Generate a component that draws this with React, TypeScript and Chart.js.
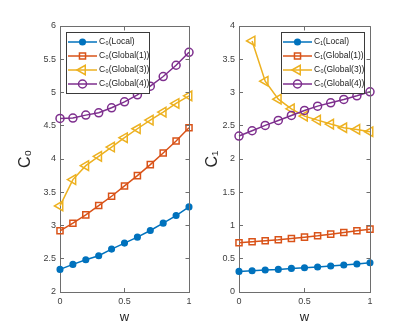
import React, { useEffect, useRef } from 'react';
import { Chart, registerables } from 'chart.js';

Chart.register(...registerables);

// ---- data ----
const wValues = [0, 0.1, 0.2, 0.3, 0.4, 0.5, 0.6, 0.7, 0.8, 0.9, 1];

const c0Local = [2.34, 2.415, 2.485, 2.545, 2.645, 2.735, 2.825, 2.925, 3.035, 3.15, 3.28];
const c0Global1 = [2.92, 3.035, 3.16, 3.3, 3.44, 3.595, 3.75, 3.915, 4.09, 4.27, 4.47];
const c0Global3 = [3.295, 3.69, 3.9, 4.04, 4.18, 4.32, 4.455, 4.585, 4.705, 4.835, 4.95];
const c0Global4 = [4.61, 4.615, 4.66, 4.695, 4.77, 4.86, 4.965, 5.095, 5.24, 5.41, 5.605];

const c1Local = [0.31, 0.32, 0.33, 0.34, 0.355, 0.365, 0.375, 0.39, 0.405, 0.42, 0.44];
const c1Global1 = [0.74, 0.755, 0.77, 0.785, 0.805, 0.825, 0.845, 0.87, 0.895, 0.92, 0.945];
const c1Global3 = [null, 3.775, 3.17, 2.9, 2.755, 2.645, 2.585, 2.525, 2.47, 2.445, 2.41];
const c1Global4 = [2.345, 2.425, 2.505, 2.58, 2.655, 2.73, 2.795, 2.845, 2.895, 2.95, 3.01];

const leftLabels = ['C₀(Local)', 'C₀(Global(1))', 'C₀(Global(3))', 'C₀(Global(4))'];
const rightLabels = ['C₁(Local)', 'C₁(Global(1))', 'C₀(Global(3))', 'C₀(Global(4))'];

const xTitle = 'w';
const leftYTitle = 'C₀';
const rightYTitle = 'C₁';

const leftYRange = [2, 6];
const rightYRange = [0, 4];

// ---- styles ----
const FONT = "'Liberation Sans', Arial, Helvetica, sans-serif";
const AXIS_COLOR = '#6e6e6e';
const TICK_COLOR = '#404040';

type SeriesStyle = { color: string; shape: 'circle' | 'rect' | 'triangle'; r: number; filled: boolean };
const seriesStyles: SeriesStyle[] = [
  { color: '#0072BD', shape: 'circle', r: 2.8, filled: true },
  { color: '#D95319', shape: 'rect', r: 4.3, filled: false },
  { color: '#EDB120', shape: 'triangle', r: 5.5, filled: false },
  { color: '#7E2F8E', shape: 'circle', r: 4, filled: false },
];

function drawMarker(ctx: CanvasRenderingContext2D, s: SeriesStyle, x: number, y: number) {
  ctx.beginPath();
  if (s.shape === 'circle') {
    ctx.arc(x, y, s.r, 0, Math.PI * 2);
  } else if (s.shape === 'rect') {
    const h = s.r * Math.SQRT1_2;
    ctx.rect(x - h, y - h, 2 * h, 2 * h);
  } else {
    ctx.moveTo(x - s.r, y);
    ctx.lineTo(x + s.r / 2, y - s.r * 0.866);
    ctx.lineTo(x + s.r / 2, y + s.r * 0.866);
    ctx.closePath();
  }
  if (s.filled) {
    ctx.fillStyle = s.color;
    ctx.fill();
  }
  ctx.strokeStyle = s.color;
  ctx.lineWidth = 1.5;
  ctx.stroke();
}

const align = (v: number) => Math.round(v - 0.5) + 0.5;
const fmtTick = (v: any) => String(+Number(v).toFixed(2));

function makeConfig(
  series: (number | null)[][],
  labels: string[],
  yRange: number[],
  yTitle: string,
  yAxisWidth: number,
  yTitlePad: number,
  padRight: number,
  legendBox: { x: number; y: number; w: number; h: number }
): any {
  const framePlugin = {
    id: 'frameAndLegend',
    afterDraw(chart: any) {
      const { ctx, chartArea } = chart;
      const { left, right, top, bottom } = chartArea;
      const xs = chart.scales.x;
      const ys = chart.scales.y;
      ctx.save();
      ctx.strokeStyle = AXIS_COLOR;
      ctx.lineWidth = 1;
      ctx.beginPath();
      ctx.moveTo(align(left), align(top));
      ctx.lineTo(align(right), align(top));
      ctx.lineTo(align(right), align(bottom));
      ctx.stroke();
      ctx.beginPath();
      xs.ticks.forEach((t: any) => {
        const px = align(xs.getPixelForValue(t.value));
        ctx.moveTo(px, align(top));
        ctx.lineTo(px, align(top) + 4);
      });
      ys.ticks.forEach((t: any) => {
        const py = align(ys.getPixelForValue(t.value));
        ctx.moveTo(align(right), py);
        ctx.lineTo(align(right) - 4, py);
      });
      ctx.stroke();

      // legend box
      const { x, y, w, h } = legendBox;
      ctx.fillStyle = '#ffffff';
      ctx.fillRect(x, y, w, h);
      ctx.strokeStyle = '#3a3a3a';
      ctx.lineWidth = 1;
      ctx.strokeRect(align(x), align(y), w, h);
      ctx.font = `8.5px ${FONT}`;
      ctx.textBaseline = 'middle';
      ctx.textAlign = 'left';
      labels.forEach((lab, i) => {
        const s = seriesStyles[i];
        const ry = y + 10 + i * 14;
        ctx.strokeStyle = s.color;
        ctx.lineWidth = 1.5;
        ctx.beginPath();
        ctx.moveTo(x + 2, ry);
        ctx.lineTo(x + 31, ry);
        ctx.stroke();
        drawMarker(ctx, s, x + 16.5, ry);
        ctx.fillStyle = '#1a1a1a';
        ctx.fillText(lab, x + 33, ry);
      });
      ctx.restore();
    },
  };

  const datasets = series.map((arr, i) => {
    const s = seriesStyles[i];
    return {
      label: labels[i],
      data: wValues.map((w, k) => ({ x: w, y: arr[k] })),
      borderColor: s.color,
      backgroundColor: s.filled ? s.color : 'rgba(0,0,0,0)',
      pointBackgroundColor: s.filled ? s.color : 'rgba(0,0,0,0)',
      pointBorderColor: s.color,
      pointStyle: s.shape,
      pointRotation: s.shape === 'triangle' ? -90 : 0,
      pointRadius: s.r,
      pointBorderWidth: 1.5,
      borderWidth: 1.5,
      clip: false,
      order: 3 - i,
      tension: 0,
    };
  });

  return {
    type: 'line',
    data: { datasets },
    options: {
      animation: false,
      responsive: false,
      devicePixelRatio: 1,
      layout: { padding: { left: 0, right: padRight, top: 26, bottom: 0 } },
      scales: {
        x: {
          type: 'linear',
          min: 0,
          max: 1,
          ticks: {
            stepSize: 0.5,
            color: TICK_COLOR,
            font: { family: FONT, size: 9 },
            padding: 8,
            maxRotation: 0,
            autoSkip: false,
            callback: fmtTick,
          },
          grid: { drawOnChartArea: false, tickLength: -4, color: AXIS_COLOR },
          border: { color: AXIS_COLOR },
          title: {
            display: true,
            text: xTitle,
            color: '#262626',
            font: { family: FONT, size: 13 },
            padding: { top: 0, bottom: 2 },
          },
          afterFit: (s: any) => {
            s.height = 35;
          },
        },
        y: {
          type: 'linear',
          min: yRange[0],
          max: yRange[1],
          ticks: {
            stepSize: 0.5,
            color: TICK_COLOR,
            font: { family: FONT, size: 9 },
            padding: 8,
            callback: fmtTick,
          },
          grid: { drawOnChartArea: false, tickLength: -4, color: AXIS_COLOR },
          border: { color: AXIS_COLOR },
          title: {
            display: true,
            text: yTitle,
            color: '#262626',
            font: { family: FONT, size: 16 },
            padding: { top: yTitlePad, bottom: 0 },
          },
          afterFit: (s: any) => {
            s.width = yAxisWidth;
          },
        },
      },
      plugins: {
        legend: { display: false },
        tooltip: { enabled: false },
      },
    },
    plugins: [framePlugin],
  };
}

function ChartPanel({ makeCfg, left, width }: { makeCfg: () => any; left: number; width: number }) {
  const ref = useRef<HTMLCanvasElement>(null);
  useEffect(() => {
    const chart = new Chart(ref.current as HTMLCanvasElement, makeCfg());
    return () => chart.destroy();
  }, []);
  return (
    <canvas
      ref={ref}
      width={width}
      height={327}
      style={{ position: 'absolute', left, top: 0, width, height: 327, display: 'block' }}
    />
  );
}

export default function App() {
  return (
    <div style={{ position: 'fixed', left: 0, top: 0, width: 409, height: 327, background: '#ffffff' }}>
      <ChartPanel
        left={0}
        width={200}
        makeCfg={() =>
          makeConfig(
            [c0Local, c0Global1, c0Global3, c0Global4],
            leftLabels,
            leftYRange,
            leftYTitle,
            60,
            16,
            11,
            { x: 66, y: 32, w: 83, h: 61 }
          )
        }
      />
      <ChartPanel
        left={200}
        width={209}
        makeCfg={() =>
          makeConfig(
            [c1Local, c1Global1, c1Global3, c1Global4],
            rightLabels,
            rightYRange,
            rightYTitle,
            39,
            3,
            39,
            { x: 81, y: 32, w: 83, h: 61 }
          )
        }
      />
    </div>
  );
}
